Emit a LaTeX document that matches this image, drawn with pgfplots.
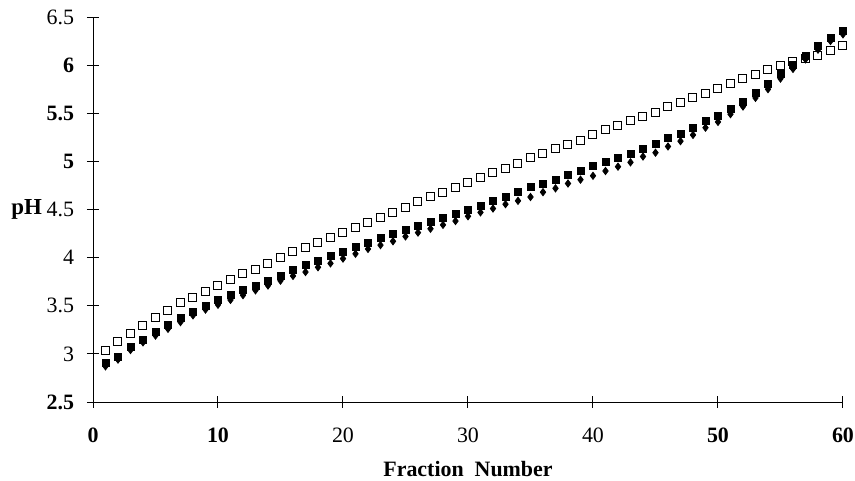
\documentclass[border=0pt]{standalone}
\usepackage{fontspec}
\setmainfont{Liberation Serif}
\usepackage{pgfplots}
\usepackage{pgfplotstable}
\pgfplotsset{compat=1.18}
\pgfplotstableread{
f open filled dia
1 3.03 2.91 2.87
2 3.13 2.97 2.94
3 3.21 3.07 3.04
4 3.30 3.15 3.12
5 3.38 3.23 3.19
6 3.455 3.30 3.26
7 3.53 3.37 3.33
8 3.59 3.44 3.40
9 3.65 3.50 3.46
10 3.71 3.56 3.51
11 3.77 3.61 3.56
12 3.83 3.66 3.61
13 3.88 3.71 3.66
14 3.94 3.76 3.71
15 4.00 3.81 3.76
16 4.06 3.87 3.81
17 4.11 3.92 3.85
18 4.16 3.97 3.90
19 4.21 4.02 3.94
20 4.26 4.06 3.99
21 4.31 4.11 4.04
22 4.37 4.15 4.09
23 4.42 4.20 4.13
24 4.47 4.25 4.17
25 4.52 4.29 4.22
26 4.58 4.33 4.26
27 4.63 4.37 4.30
28 4.68 4.41 4.34
29 4.73 4.45 4.38
30 4.78 4.50 4.43
31 4.83 4.54 4.47
32 4.885 4.59 4.51
33 4.93 4.63 4.555
34 4.98 4.68 4.59
35 5.04 4.73 4.63
36 5.08 4.77 4.68
37 5.13 4.81 4.72
38 5.18 4.86 4.77
39 5.22 4.90 4.81
40 5.28 4.95 4.85
41 5.33 4.99 4.90
42 5.37 5.04 4.945
43 5.42 5.08 4.99
44 5.47 5.13 5.05
45 5.51 5.18 5.09
46 5.57 5.24 5.155
47 5.61 5.29 5.21
48 5.66 5.35 5.275
49 5.71 5.42 5.35
50 5.755 5.47 5.41
51 5.81 5.55 5.49
52 5.86 5.62 5.57
53 5.905 5.71 5.66
54 5.95 5.80 5.75
55 5.995 5.905 5.86
56 6.04 6.00 5.96
57 6.07 6.10 6.06
58 6.10 6.20 6.16
59 6.155 6.285 6.25
60 6.20 6.36 6.32
}\datatable
\begin{document}
\begin{tikzpicture}
\path[use as bounding box] (-46.5bp,-39.5bp) rectangle (381bp,201bp);
\begin{axis}[
  at={(0,0)}, anchor=south west,
  scale only axis, width=375bp, height=192.5bp,
  xmin=0, xmax=60, ymin=2.5, ymax=6.5,
  axis lines=left, axis line style={-, line width=0.5bp},
  clip=false,
  tick align=center, major tick length=6bp,
  tick style={black, line width=0.5bp},
  xtick={0,10,...,60},
  xticklabels={\textbf{0},\textbf{10},20,30,40,\textbf{50},\textbf{60}},
  ytick={2.5,3,3.5,4,4.5,5,5.5,6,6.5},
  yticklabels={\textbf{2.5},3,3.5,4,4.5,\textbf{5},\textbf{5.5},\textbf{6},6.5},
  ticklabel style={font=\fontsize{11}{13}\selectfont},
  yticklabel style={xshift=-3bp},
  xticklabel style={yshift=-6.5bp},
  xlabel={Fraction\ \ Number},
  xlabel style={font=\fontsize{11}{13}\selectfont\bfseries, inner sep=0pt, at={(axis description cs:0.5,0)}, anchor=north, yshift=-29.5bp},
]
\addplot[only marks, mark=square*, mark size=2bp, mark options={fill=white, draw=black, line width=0.5bp}] table[x=f, y=open] {\datatable};
\addplot[only marks, mark=square*, mark size=1.75bp, mark options={fill=black, draw=black}] table[x=f, y=filled] {\datatable};
\addplot[only marks, mark=diamond*, mark size=1.8bp, mark options={fill=black, draw=black}] table[x=f, y=dia] {\datatable};
\node[anchor=east, font=\fontsize{11.5}{13}\selectfont\bfseries] at (rel axis cs:0,0.5) [xshift=-22bp] {pH};
\end{axis}
\end{tikzpicture}
\end{document}
